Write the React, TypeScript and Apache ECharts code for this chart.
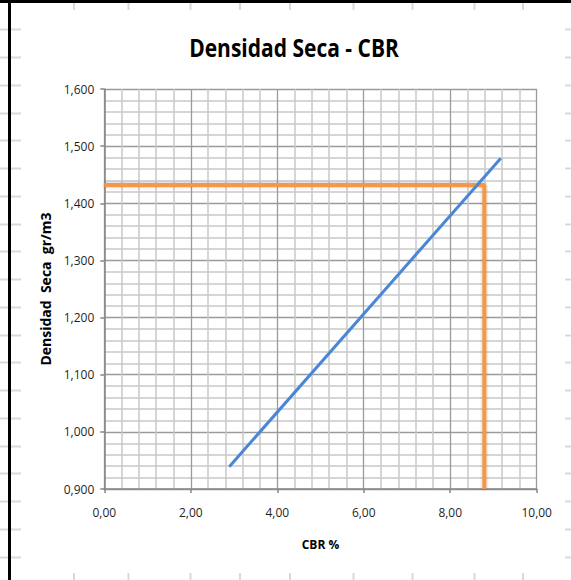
import React, { useEffect, useRef } from "react";
import * as echarts from "echarts";

// Trend line of dry density against CBR
const cbrPoints = [2.89, 9.17];
const densityPoints = [0.939, 1.479];

// Reference reading (design density -> CBR)
const designCbr = 8.79;
const designDensity = 1.432;

// Axis ranges and steps
const cbrRange = [0, 10];
const cbrStep = 2;
const densityRange = [0.9, 1.6];
const densityStep = 0.1;

const WIDTH = 571;
const HEIGHT = 580;

// Faint worksheet cell borders around the embedded chart
const sheetColumns = [74, 128.5, 190.5, 240, 290, 353.5, 412.5, 474.5, 523];
const sheetRowStart = 29.3;
const sheetRowStep = 27.75;

function sheetDecor() {
  const grey = { stroke: "#d9d9d9", lineWidth: 2 };
  const items: any[] = [];
  for (let k = 0; sheetRowStart + k * sheetRowStep < HEIGHT; k++) {
    const y = Math.round(sheetRowStart + k * sheetRowStep) + 0.5;
    items.push({ type: "line", shape: { x1: 0, y1: y, x2: 21, y2: y }, style: grey, silent: true });
    items.push({ type: "line", shape: { x1: 565, y1: y, x2: WIDTH, y2: y }, style: grey, silent: true });
  }
  sheetColumns.forEach((x) => {
    items.push({ type: "line", shape: { x1: x, y1: 3, x2: x, y2: 10 }, style: grey, silent: true });
    items.push({ type: "line", shape: { x1: x, y1: 573, x2: x, y2: HEIGHT }, style: grey, silent: true });
  });
  items.push({ type: "rect", shape: { x: 0, y: 0, width: WIDTH, height: 3 }, style: { fill: "#000" }, silent: true });
  items.push({ type: "rect", shape: { x: 8, y: 0, width: 3, height: HEIGHT }, style: { fill: "#000" }, silent: true });
  return items;
}

export default function App() {
  const ref = useRef<HTMLDivElement>(null);

  useEffect(() => {
    const chart = echarts.init(ref.current!, null, { renderer: "svg" });
    const labelFont = { fontFamily: "Open Sans", fontSize: 12, color: "#1f1f1f" };

    chart.setOption({
      animation: false,
      backgroundColor: "#fff",
      grid: { left: 104.3, right: WIDTH - 536.7, top: 89, bottom: HEIGHT - 489 },
      graphic: [
        ...sheetDecor(),
        {
          type: "text",
          x: 294,
          y: 47,
          scaleX: 0.84,
          style: {
            text: "Densidad Seca - CBR",
            font: 'bold 25px "Open Sans"',
            fill: "#000",
            align: "center",
            verticalAlign: "middle",
          },
        },
      ],
      xAxis: {
        type: "value",
        min: cbrRange[0],
        max: cbrRange[1],
        interval: cbrStep,
        name: "CBR %",
        nameLocation: "middle",
        nameGap: 49,
        nameTextStyle: { fontFamily: "Open Sans", fontSize: 12, fontWeight: "bold", color: "#000" },
        axisLine: { show: true, lineStyle: { color: "#868686", width: 1.5 } },
        axisTick: { show: true, inside: false, length: 4, lineStyle: { color: "#868686", width: 1.5 } },
        axisLabel: { ...labelFont, margin: 17, formatter: (v: number) => v.toFixed(2).replace(".", ",") },
        splitLine: { show: true, lineStyle: { color: "#9a9a9a", width: 1.3 } },
        minorTick: { show: false, splitNumber: 5 },
        minorSplitLine: { show: true, lineStyle: { color: "#c9c9c9", width: 1.5 } },
      },
      yAxis: {
        type: "value",
        min: densityRange[0],
        max: densityRange[1],
        interval: densityStep,
        name: "Densidad  Seca  gr/m3",
        nameLocation: "middle",
        nameGap: 45,
        nameTextStyle: { fontFamily: "Open Sans", fontSize: 14, fontWeight: "bold", color: "#000" },
        axisLine: { show: true, lineStyle: { color: "#868686", width: 1.5 } },
        axisTick: { show: true, inside: false, length: 4, lineStyle: { color: "#868686", width: 1.5 } },
        axisLabel: { ...labelFont, margin: 10, formatter: (v: number) => v.toFixed(3).replace(".", ",") },
        splitLine: { show: true, lineStyle: { color: "#9a9a9a", width: 1.3 } },
        minorTick: { show: false, splitNumber: 5 },
        minorSplitLine: { show: true, lineStyle: { color: "#c9c9c9", width: 1.5 } },
      },
      series: [
        {
          name: "Densidad de diseño",
          type: "line",
          data: [
            [cbrRange[0], designDensity],
            [designCbr, designDensity],
            [designCbr, densityRange[0]],
          ],
          symbol: "none",
          lineStyle: {
            color: "#F79646",
            width: 4,
            shadowBlur: 3,
            shadowColor: "rgba(0,0,0,0.3)",
          },
          silent: true,
        },
        {
          name: "Densidad Seca",
          type: "line",
          data: cbrPoints.map((c, i) => [c, densityPoints[i]]),
          symbol: "none",
          lineStyle: { color: "#4A86D6", width: 3 },
          silent: true,
        },
      ],
    });

    return () => chart.dispose();
  }, []);

  return (
    <div
      ref={ref}
      style={{ position: "fixed", left: 0, top: 0, width: WIDTH, height: HEIGHT, background: "#fff" }}
    />
  );
}
